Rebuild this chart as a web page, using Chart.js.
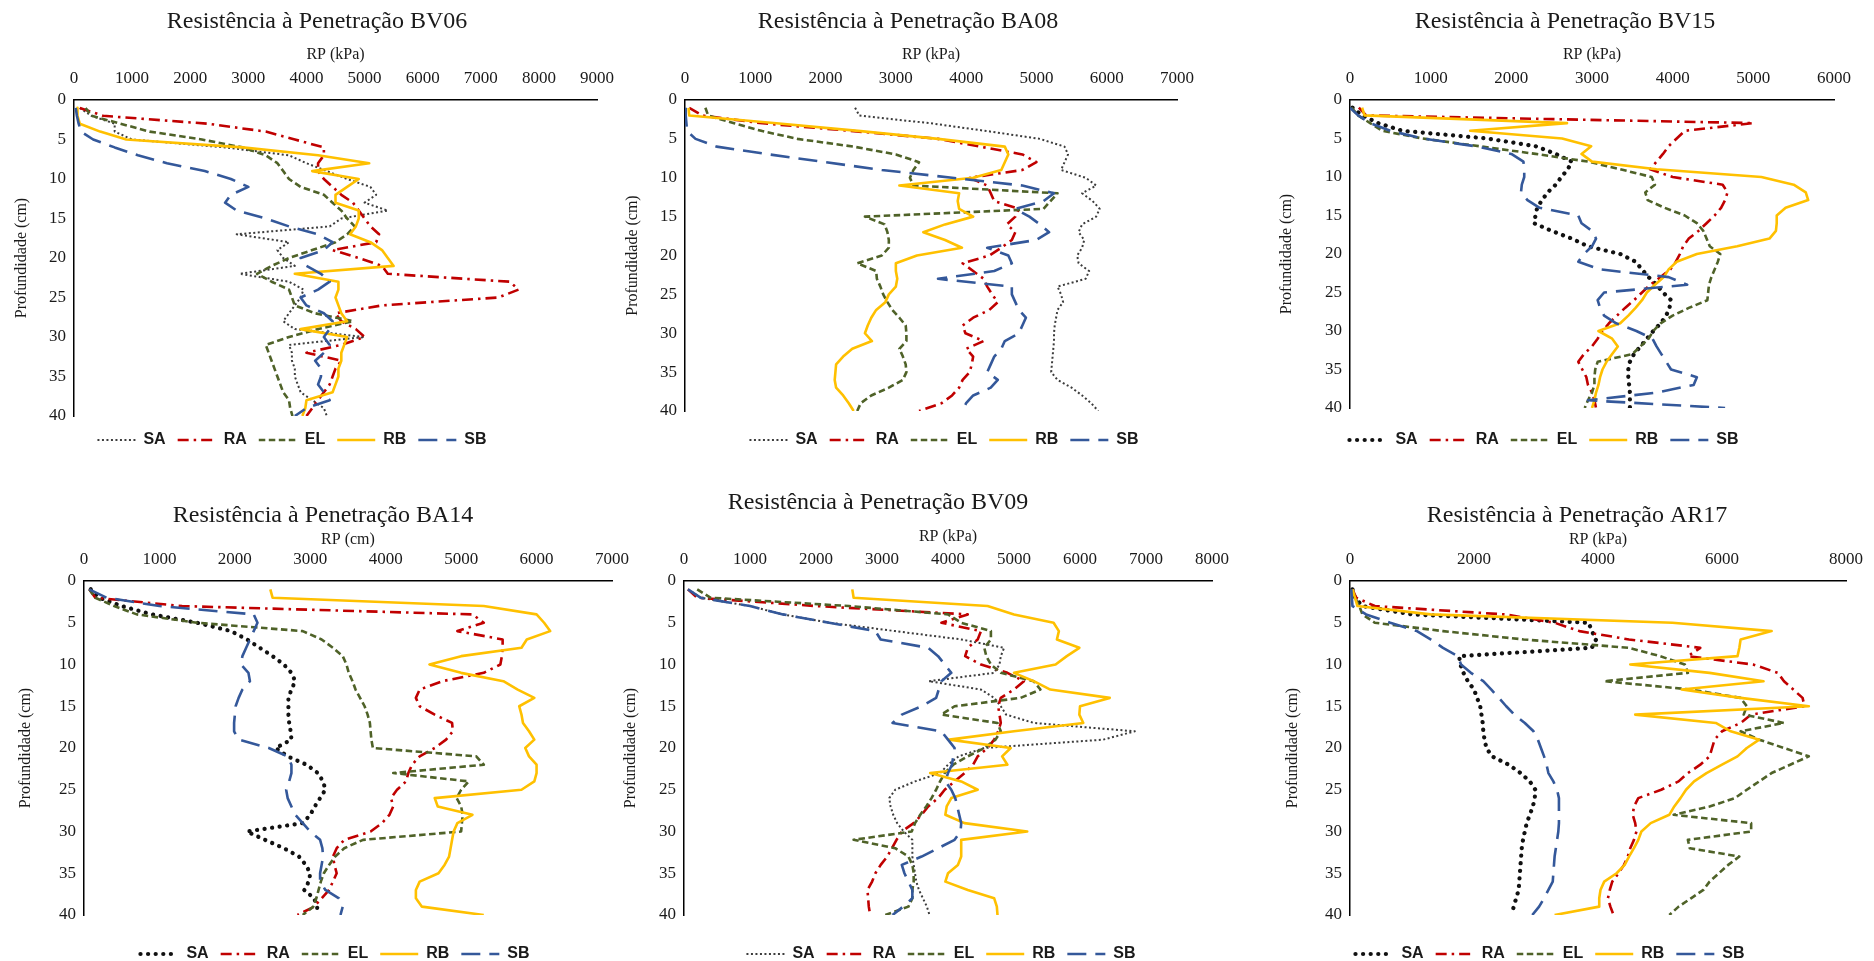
<!DOCTYPE html>
<html>
<head>
<meta charset="utf-8">
<title>Resistência à Penetração</title>
<script src="https://cdn.jsdelivr.net/npm/chart.js@4.4.1/dist/chart.umd.min.js"></script>
<style>
  html, body { margin: 0; padding: 0; background: #fff; }
  body { width: 1874px; height: 961px; position: relative; overflow: hidden; }
</style>
</head>
<body>
<script>
// Perfis de resistência à penetração (RP) por profundidade, 6 pontos de coleta

// Profundidade (cm), comum a todas as séries
const depth = [1, 2, 3, 4, 5, 6, 7, 8, 9, 10, 11, 12, 13, 14, 15, 16, 17, 18, 19, 20,
  21, 22, 23, 24, 25, 26, 27, 28, 29, 30, 31, 32, 33, 34, 35, 36, 37, 38, 39, 40];

const seriesNames = ['SA', 'RA', 'EL', 'RB', 'SB'];
const chartTitles = [
  'Resistência à Penetração BV06', 'Resistência à Penetração BA08', 'Resistência à Penetração BV15',
  'Resistência à Penetração BA14', 'Resistência à Penetração BV09', 'Resistência à Penetração AR17'
];
const xTitles = ['RP (kPa)', 'RP (kPa)', 'RP (kPa)', 'RP (cm)', 'RP (kPa)', 'RP (kPa)'];
const xMax = [9000, 7000, 6000, 7000, 8000, 8000];
const xStep = [1000, 1000, 1000, 1000, 1000, 2000];
const depthMax = 40;
const depthStep = 5;

// BV06
const bv06SA = [100, 300, 700, 700, 1000, 2600, 3700, 4000, 4350, 4700, 5100, 5200, 5000, 5400, 4600, 4400, 2800, 3700, 3500, 3600,
  3800, 2850, 3700, 3950, 3900, 3800, 3700, 3600, 3800, 5000, 3700, 3750, 3750, 3800, 3800, 3850, 3900, 4100, 4300, 4350];
const bv06RA = [100, 500, 2300, 3300, 3800, 4300, 4300, 4200, 4200, 4300, 4450, 4600, 4800, 4900, 5000, 5100, 5250, 5200, 4450, 4900,
  5300, 5400, 7500, 7650, 7300, 5300, 4500, 4600, 4850, 5000, 4600, 4000, 4600, 4500, 4450, 4400, 4300, 4200, 4100, 4000];
const bv06EL = [200, 300, 800, 1300, 2200, 2900, 3300, 3500, 3600, 3700, 3900, 4300, 4450, 4600, 4700, 4830, 4700, 4500, 4100, 3700,
  3400, 3150, 3400, 3700, 3750, 3800, 4150, 4800, 4200, 3700, 3300, 3350, 3400, 3450, 3500, 3550, 3600, 3700, 3720, 3760];
const bv06RB = [60, 60, 100, 450, 900, 2900, 4200, 5080, 4100, 4900, 4700, 4500, 4500, 4900, 4900, 4850, 4750, 5100, 5300, 5400,
  5500, 3800, 4550, 4550, 4500, 4550, 4600, 4700, 3900, 4700, 4650, 4600, 4600, 4550, 4550, 4500, 4450, 4000, 3980, 3930];
const bv06SB = [30, 50, 80, 120, 330, 700, 1100, 1600, 2250, 2700, 3000, 2700, 2600, 2800, 3300, 3700, 4200, 4450, 4300, 3900,
  4000, 4250, 4400, 4200, 3900, 4000, 4300, 4450, 4400, 4300, 4400, 4300, 4150, 4250, 4250, 4200, 4300, 4400, 4000, 3800];

// BA08
const ba08SA = [2420, 2480, 3500, 4300, 5050, 5400, 5450, 5400, 5350, 5700, 5850, 5650, 5800, 5900, 5850, 5650, 5600, 5680, 5650, 5580,
  5600, 5750, 5700, 5300, 5350, 5380, 5300, 5280, 5260, 5250, 5250, 5240, 5230, 5220, 5210, 5300, 5500, 5650, 5780, 5880];
const ba08RA = [60, 250, 1100, 2400, 3600, 4200, 4800, 5000, 4800, 4050, 4300, 4350, 4400, 4750, 4700, 4580, 4700, 4650, 4500, 4330,
  3950, 4100, 4250, 4300, 4370, 4450, 4330, 4100, 3950, 3990, 4250, 4000, 4100, 4080, 4050, 3950, 3900, 3800, 3650, 3330];
const ba08EL = [290, 330, 700, 1100, 1600, 2400, 3000, 3330, 3250, 3200, 3250, 5300, 5200, 5100, 2560, 2840, 2880, 2900, 2900, 2800,
  2450, 2720, 2730, 2780, 2820, 2880, 2950, 3050, 3140, 3150, 3150, 3050, 3100, 3140, 3150, 3100, 2900, 2650, 2500, 2450];
const ba08RB = [50, 60, 1300, 2500, 3600, 4550, 4600, 4550, 4500, 4100, 3050, 3900, 3880, 3900, 4100, 3700, 3390, 3700, 3940, 3300,
  3000, 3000, 3020, 3000, 2900, 2850, 2720, 2650, 2600, 2560, 2660, 2380, 2250, 2150, 2140, 2130, 2150, 2250, 2330, 2400];
const ba08SB = [10, 10, 20, 30, 150, 450, 1200, 2000, 2800, 3800, 4800, 5250, 5100, 4700, 4900, 5050, 5180, 5000, 4300, 4600,
  4650, 4400, 3600, 4650, 4650, 4700, 4750, 4850, 4800, 4750, 4550, 4500, 4400, 4350, 4300, 4450, 4350, 4100, 4000, 3940];

// BV15
const bv15SA = [30, 150, 350, 650, 1700, 2300, 2550, 2750, 2700, 2620, 2550, 2450, 2380, 2320, 2300, 2280, 2500, 2750, 2950, 3350,
  3540, 3620, 3700, 3800, 3880, 3980, 3960, 3920, 3850, 3760, 3680, 3600, 3520, 3470, 3450, 3450, 3460, 3470, 3470, 3470];
const bv15RA = [110, 200, 5000, 4150, 4050, 3950, 3880, 3800, 3720, 4000, 4620, 4680, 4650, 4600, 4520, 4420, 4320, 4200, 4130, 4090,
  4040, 3970, 3850, 3720, 3620, 3520, 3410, 3310, 3210, 3130, 3070, 3000, 2900, 2830, 2880, 2930, 2950, 3000, 3030, 3050];
const bv15EL = [20, 100, 250, 400, 900, 1600, 2300, 2950, 3350, 3740, 3780, 3660, 3690, 3900, 4150, 4300, 4380, 4420, 4460, 4590,
  4560, 4520, 4480, 4450, 4440, 4430, 4200, 4000, 3850, 3760, 3700, 3600, 3500, 3070, 3040, 3030, 3030, 3000, 2950, 2910];
const bv15RB = [150, 180, 2690, 1490, 2630, 2990, 2870, 3000, 3800, 5100, 5500, 5650, 5680, 5400, 5290, 5290, 5280, 5200, 4800, 4300,
  4050, 3950, 3890, 3780, 3680, 3620, 3540, 3450, 3350, 3080, 3250, 3320, 3250, 3180, 3130, 3100, 3080, 3050, 3030, 3000];
const bv15SB = [0, 100, 250, 500, 900, 1550, 2000, 2150, 2160, 2160, 2130, 2120, 2200, 2350, 2830, 2870, 3000, 3050, 3000, 2900,
  2830, 3100, 3950, 4180, 3150, 3070, 3100, 3150, 3300, 3550, 3750, 3800, 3860, 3920, 3980, 4300, 4260, 3800, 2950, 4650];

// BA14
const ba14SA = [90, 200, 500, 900, 1500, 1950, 2160, 2330, 2500, 2650, 2750, 2800, 2750, 2710, 2710, 2710, 2720, 2740, 2750, 2540,
  2700, 2950, 3100, 3170, 3200, 3130, 3060, 3000, 2900, 2160, 2400, 2650, 2850, 2940, 3000, 2980, 2920, 3050, 3090, 3100];
const ba14RA = [70, 150, 1300, 5150, 5300, 4950, 5550, 5550, 5540, 5520, 5300, 4750, 4450, 4400, 4450, 4650, 4880, 4890, 4800, 4650,
  4450, 4350, 4300, 4270, 4150, 4070, 4100, 4050, 3950, 3800, 3450, 3350, 3300, 3320, 3350, 3300, 3250, 3150, 3050, 2830];
const ba14EL = [70, 150, 400, 700, 1500, 2900, 3150, 3300, 3430, 3480, 3510, 3560, 3600, 3660, 3720, 3760, 3790, 3800, 3810, 3830,
  5200, 5300, 4100, 5100, 5000, 4940, 5000, 5020, 5010, 5000, 3700, 3450, 3330, 3250, 3180, 3140, 3110, 3080, 3040, 2900];
const ba14RB = [2470, 2500, 5300, 6000, 6100, 6180, 5870, 5800, 5000, 4580, 5000, 5560, 5750, 5970, 5770, 5800, 5820, 5900, 5970, 5850,
  5900, 6000, 6000, 5970, 5800, 4650, 4690, 5150, 4950, 4900, 4880, 4860, 4840, 4780, 4700, 4450, 4400, 4400, 4480, 5300];
const ba14SB = [70, 300, 1000, 2250, 2300, 2250, 2200, 2150, 2100, 2080, 2180, 2200, 2100, 2050, 2010, 2000, 1990, 1990, 2050, 2450,
  2700, 2750, 2750, 2720, 2680, 2700, 2750, 2800, 2900, 3000, 3130, 3160, 3170, 3150, 3130, 3130, 3200, 3380, 3430, 3400];

// BV09
const bv09SA = [60, 250, 1000, 1500, 2200, 3200, 4200, 4850, 4800, 4780, 4700, 3710, 4500, 4700, 4800, 4880, 5300, 6830, 6350, 4550,
  4160, 4000, 3880, 3500, 3200, 3110, 3130, 3170, 3230, 3330, 3460, 3460, 3460, 3480, 3500, 3520, 3560, 3620, 3680, 3720];
const bv09RA = [60, 200, 2000, 4300, 3900, 4500, 4450, 4300, 4260, 4500, 4900, 5150, 5000, 4800, 4760, 4780, 4800, 4760, 4700, 4600,
  4450, 4380, 4250, 4100, 3950, 3850, 3700, 3600, 3480, 3300, 3220, 3150, 3080, 2980, 2900, 2850, 2780, 2790, 2800, 2820];
const bv09EL = [200, 400, 2500, 4000, 4200, 4650, 4650, 4550, 4580, 4650, 4800, 5300, 5400, 5100, 4100, 3900, 4750, 4800, 4720, 4550,
  4300, 4080, 3950, 3880, 3820, 3750, 3670, 3580, 3500, 3450, 2570, 3200, 3400, 3460, 3480, 3480, 3460, 3460, 3400, 3050];
const bv09RB = [2550, 2570, 4600, 5000, 5600, 5680, 5650, 5990, 5800, 5630, 5000, 5300, 5550, 6450, 6000, 5990, 6050, 5000, 4020, 4950,
  4820, 4900, 3730, 4200, 4450, 4050, 3980, 3960, 4250, 5200, 4200, 4200, 4200, 4150, 4000, 3960, 4300, 4700, 4740, 4750];
const bv09SB = [60, 250, 1000, 1500, 2200, 2900, 2980, 3700, 3850, 3950, 4050, 3900, 3860, 3820, 3600, 3300, 3160, 3900, 4000, 4100,
  4080, 4060, 4000, 3960, 4050, 4110, 4140, 4170, 4200, 4190, 4100, 3850, 3600, 3300, 3340, 3400, 3460, 3460, 3320, 3160];

// AR17
const ar17SA = [40, 80, 200, 1000, 3850, 3900, 3970, 3900, 1760, 1780, 1830, 1900, 2000, 2050, 2100, 2120, 2140, 2150, 2170, 2200,
  2290, 2560, 2750, 2900, 2990, 2980, 2950, 2900, 2850, 2820, 2790, 2770, 2760, 2750, 2740, 2730, 2720, 2680, 2640, 2610];
const ar17RA = [40, 100, 400, 2500, 3300, 3700, 4500, 5650, 5450, 6500, 6900, 7000, 7150, 7300, 7330, 6470, 6300, 6000, 5880, 5840,
  5800, 5650, 5450, 5300, 5020, 4650, 4580, 4560, 4600, 4620, 4580, 4520, 4480, 4420, 4330, 4230, 4190, 4160, 4200, 4250];
const ar17EL = [40, 80, 150, 200, 400, 1500, 2800, 4500, 5000, 5400, 5450, 4100, 5500, 6300, 6400, 6350, 7000, 6300, 6600, 7000,
  7400, 7100, 6800, 6600, 6400, 6210, 5800, 5220, 6470, 6470, 5450, 5480, 6280, 6100, 5950, 5800, 5700, 5500, 5300, 5150];
const ar17RB = [40, 80, 120, 1300, 5200, 6800, 6300, 6280, 6250, 4520, 5800, 6670, 5350, 6300, 7400, 4600, 5900, 6140, 6600, 6400,
  6250, 6000, 5750, 5550, 5420, 5330, 5230, 5150, 4850, 4700, 4650, 4580, 4500, 4430, 4300, 4100, 4040, 4020, 4020, 3300];
const ar17SB = [20, 30, 40, 260, 650, 1080, 1300, 1500, 1740, 1790, 1950, 2150, 2280, 2400, 2520, 2650, 2820, 2960, 3030, 3080,
  3130, 3170, 3200, 3280, 3340, 3370, 3370, 3370, 3370, 3360, 3340, 3320, 3300, 3290, 3280, 3270, 3200, 3130, 3050, 2940];

const panelSeries = [
  [bv06SA, bv06RA, bv06EL, bv06RB, bv06SB],
  [ba08SA, ba08RA, ba08EL, ba08RB, ba08SB],
  [bv15SA, bv15RA, bv15EL, bv15RB, bv15SB],
  [ba14SA, ba14RA, ba14EL, ba14RB, ba14SB],
  [bv09SA, bv09RA, bv09EL, bv09RB, bv09SB],
  [ar17SA, ar17RA, ar17EL, ar17RB, ar17SB]
];

// ---- estilos e posições (px na página) ----
const SERIF = "'Liberation Serif', 'DejaVu Serif', serif";
const SANS = "'Liberation Sans Narrow', 'Liberation Sans', Arial, sans-serif";
const INK = '#1a1a1a';
const TITLE_SIZE = 24;
const TICK_SIZE = 17;
const AXIS_TITLE_SIZE = 16;
const LEGEND_SIZE = 16;
const LEGEND_PAD = 12;

const lineStyles = {
  SA: { color: '#3c3c3c', dash: [2, 2.5], width: 2, cap: 'butt' },
  SAbold: { color: '#111111', dash: [0.1, 7.5], width: 4.2, cap: 'round' },
  RA: { color: '#C00000', dash: [11, 5, 2.5, 5], width: 2.6, cap: 'butt' },
  EL: { color: '#4F6228', dash: [6.5, 3.5], width: 2.6, cap: 'butt' },
  RB: { color: '#FFC000', dash: [], width: 2.6, cap: 'butt' },
  SB: { color: '#34589A', dash: [19, 9], width: 2.6, cap: 'butt' }
};
const boldDots = [false, false, true, true, false, true];

// canvas (cx, cy, cw, ch), área do gráfico (L, T, R, B) e centros dos textos
const layout = [
  { cx: 0,    cy: 0,   cw: 625, ch: 470, L: 74,   T: 100, R: 601,  B: 416, titleX: 317,  titleY: 22,  xTitleY: 55,  yTitleX: 22,   legendX: 292,  legendY: 440 },
  { cx: 615,  cy: 0,   cw: 595, ch: 470, L: 685,  T: 100, R: 1177, B: 411, titleX: 908,  titleY: 22,  xTitleY: 55,  yTitleX: 633,  legendX: 944,  legendY: 440 },
  { cx: 1250, cy: 0,   cw: 624, ch: 470, L: 1350, T: 100, R: 1834, B: 408, titleX: 1565, titleY: 22,  xTitleY: 55,  yTitleX: 1287, legendX: 1544, legendY: 440 },
  { cx: 0,    cy: 478, cw: 640, ch: 483, L: 84,   T: 581, R: 619,  B: 915, titleX: 323,  titleY: 516, xTitleY: 540, yTitleX: 26,   legendX: 335,  legendY: 954 },
  { cx: 620,  cy: 478, cw: 620, ch: 483, L: 684,  T: 581, R: 1221, B: 915, titleX: 878,  titleY: 503, xTitleY: 537, yTitleX: 631,  legendX: 941,  legendY: 954 },
  { cx: 1250, cy: 478, cw: 624, ch: 483, L: 1350, T: 581, R: 1856, B: 915, titleX: 1577, titleY: 516, xTitleY: 540, yTitleX: 1293, legendX: 1550, legendY: 954 }
];

// recoloca título e legenda nos centros medidos no original
const blockPlace = {
  id: 'blockPlace',
  afterLayout(chart, args, opts) {
    const tb = chart.titleBlock;
    if (tb) {
      const dx = opts.titleX - (tb.left + tb.right) / 2;
      tb.left += dx; tb.right += dx;
    }
    const lg = chart.legend;
    if (lg) {
      const dx = opts.legendX - (lg.left + lg.right) / 2;
      const dy = opts.legendY - (lg.top + LEGEND_PAD + LEGEND_SIZE / 2);
      lg.left += dx; lg.right += dx;
      lg.top += dy; lg.bottom += dy;
    }
  }
};

// legenda com o traço (tracejado) de cada série
function legendLabels(chart) {
  return chart.data.datasets.map((ds, i) => ({
    text: ds.label,
    datasetIndex: i,
    hidden: false,
    fillStyle: ds.borderColor,
    strokeStyle: ds.borderColor,
    fontColor: INK,
    lineWidth: ds.borderWidth,
    lineDash: ds.borderDash,
    lineCap: ds.borderCapStyle,
    lineJoin: 'round',
    pointStyle: 'line',
    rotation: 0
  }));
}

function buildDatasets(series, bold) {
  return seriesNames.map((name, i) => {
    const st = (name === 'SA' && bold) ? lineStyles.SAbold : lineStyles[name];
    return {
      label: name,
      data: depth.map((d, k) => ({ x: series[i][k], y: d })),
      showLine: true,
      borderColor: st.color,
      backgroundColor: st.color,
      borderWidth: st.width,
      borderDash: st.dash,
      borderCapStyle: st.cap,
      borderJoinStyle: 'round',
      pointRadius: 0,
      pointHoverRadius: 0,
      tension: 0,
      order: seriesNames.length - i
    };
  });
}

function initPanel(n) {
  const g = layout[n];
  const canvas = document.createElement('canvas');
  canvas.width = g.cw;
  canvas.height = g.ch;
  canvas.style.cssText = `position:absolute;left:${g.cx}px;top:${g.cy}px;width:${g.cw}px;height:${g.ch}px`;
  document.body.appendChild(canvas);

  const titlePadTop = g.titleY - g.cy - TITLE_SIZE * 0.6;
  const titleH = TITLE_SIZE * 1.2 + titlePadTop;
  const legendH = LEGEND_SIZE + LEGEND_PAD + 10;
  const tickFont = { family: SERIF, size: TICK_SIZE };
  const axisTitleFont = { family: SERIF, size: AXIS_TITLE_SIZE };

  new Chart(canvas, {
    type: 'scatter',
    data: { datasets: buildDatasets(panelSeries[n], boldDots[n]) },
    options: {
      responsive: false,
      animation: false,
      events: [],
      layout: {
        padding: { left: 0, top: 0, right: g.cx + g.cw - g.R, bottom: g.cy + g.ch - legendH - g.B }
      },
      plugins: {
        title: {
          display: true,
          text: chartTitles[n],
          color: INK,
          font: { family: SERIF, size: TITLE_SIZE, weight: 'normal' },
          padding: { top: titlePadTop, bottom: 0 }
        },
        legend: {
          position: 'bottom',
          labels: {
            usePointStyle: true,
            pointStyle: 'line',
            pointStyleWidth: 38,
            boxHeight: LEGEND_SIZE,
            padding: LEGEND_PAD,
            color: INK,
            font: { family: SANS, size: LEGEND_SIZE, weight: 'bold' },
            generateLabels: legendLabels
          }
        },
        tooltip: { enabled: false },
        blockPlace: { titleX: g.titleX - g.cx, legendX: g.legendX - g.cx, legendY: g.legendY - g.cy }
      },
      scales: {
        x: {
          type: 'linear',
          position: 'top',
          min: 0,
          max: xMax[n],
          afterFit: (s) => { s.height = g.T - g.cy - titleH; },
          ticks: { stepSize: xStep[n], padding: 11, color: INK, font: tickFont, callback: (v) => String(v) },
          grid: { display: false, drawTicks: false },
          border: { display: true, color: '#000', width: 1.5 },
          title: {
            display: true,
            text: xTitles[n],
            color: INK,
            font: axisTitleFont,
            padding: { top: g.xTitleY - g.cy - titleH - AXIS_TITLE_SIZE * 0.6, bottom: 0 }
          }
        },
        y: {
          type: 'linear',
          reverse: true,
          min: 0,
          max: depthMax,
          afterFit: (s) => { s.width = g.L - g.cx; },
          ticks: { stepSize: depthStep, padding: 8, color: INK, font: tickFont, callback: (v) => String(v) },
          grid: { display: false, drawTicks: false },
          border: { display: true, color: '#000', width: 1.5 },
          title: {
            display: true,
            text: 'Profundidade (cm)',
            color: INK,
            font: axisTitleFont,
            padding: { top: g.yTitleX - g.cx - AXIS_TITLE_SIZE * 0.6, bottom: 0 }
          }
        }
      }
    },
    plugins: [blockPlace]
  });
}

for (let n = 0; n < layout.length; n++) {
  initPanel(n);
}
</script>
</body>
</html>
